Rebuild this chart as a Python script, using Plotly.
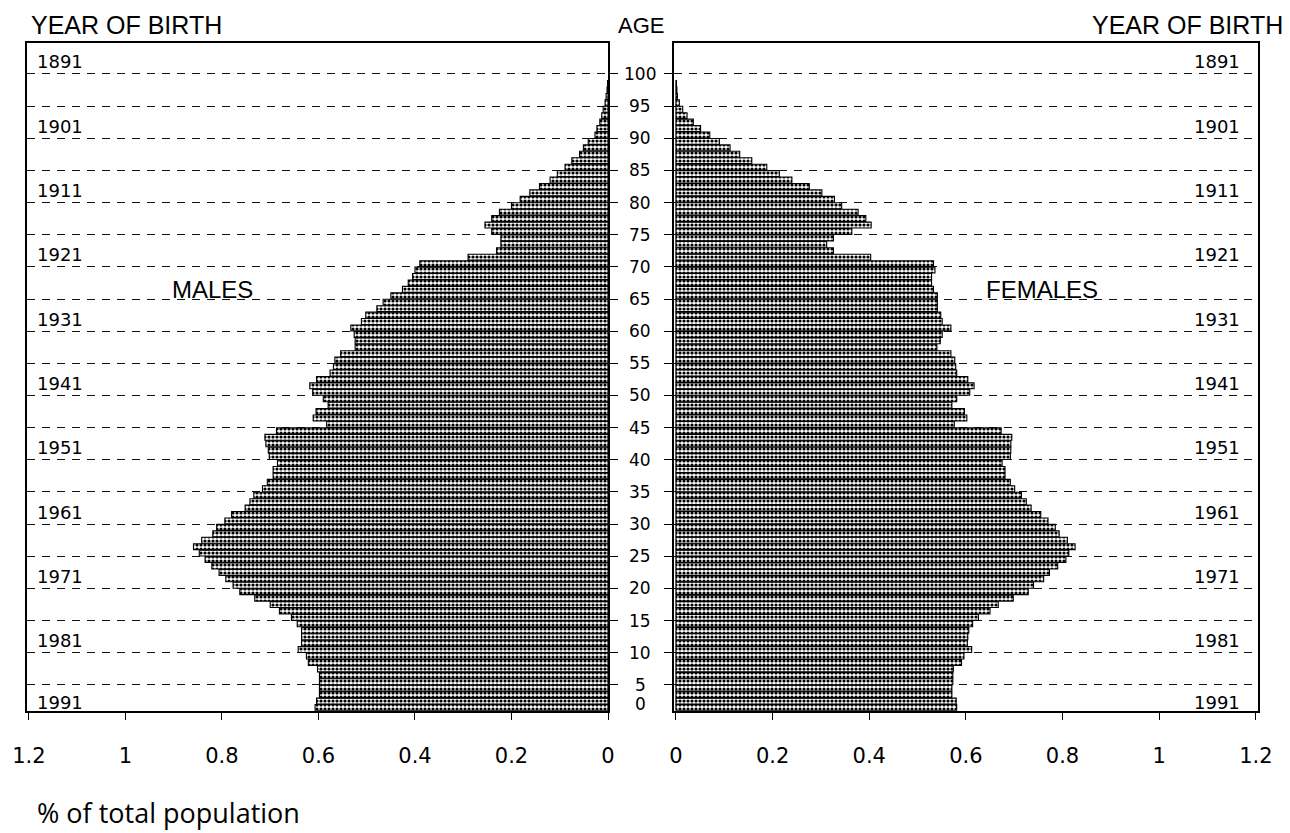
import plotly.graph_objects as go

# ---------------- data ----------------
ages = list(range(1, 99))

males = [0.607, 0.604, 0.598, 0.598, 0.598, 0.598, 0.602, 0.621, 0.625, 0.642,
         0.635, 0.635, 0.635, 0.644, 0.656, 0.681, 0.700, 0.732, 0.763, 0.777,
         0.792, 0.806, 0.821, 0.835, 0.847, 0.859, 0.842, 0.819, 0.811, 0.794,
         0.780, 0.752, 0.742, 0.734, 0.716, 0.706, 0.694, 0.694, 0.685, 0.702,
         0.704, 0.709, 0.711, 0.687, 0.583, 0.611, 0.605, 0.580, 0.590, 0.612,
         0.618, 0.604, 0.576, 0.569, 0.566, 0.554, 0.524, 0.524, 0.526, 0.533,
         0.511, 0.502, 0.479, 0.466, 0.450, 0.426, 0.414, 0.405, 0.400, 0.390,
         0.290, 0.231, 0.222, 0.222, 0.241, 0.255, 0.241, 0.225, 0.200, 0.182,
         0.162, 0.142, 0.120, 0.105, 0.089, 0.075, 0.059, 0.051, 0.041, 0.027,
         0.023, 0.017, 0.013, 0.010, 0.006, 0.004, 0.002, 0.001]

females = [0.581, 0.580, 0.571, 0.571, 0.573, 0.573, 0.574, 0.591, 0.596, 0.612,
           0.603, 0.604, 0.606, 0.614, 0.626, 0.650, 0.667, 0.698, 0.729, 0.740,
           0.761, 0.773, 0.790, 0.807, 0.813, 0.826, 0.810, 0.793, 0.785, 0.770,
           0.755, 0.735, 0.725, 0.715, 0.701, 0.692, 0.681, 0.681, 0.675, 0.692,
           0.693, 0.693, 0.695, 0.673, 0.576, 0.602, 0.597, 0.571, 0.581, 0.608,
           0.617, 0.604, 0.581, 0.579, 0.577, 0.569, 0.540, 0.547, 0.551, 0.569,
           0.551, 0.548, 0.541, 0.541, 0.541, 0.533, 0.529, 0.529, 0.536, 0.533,
           0.403, 0.326, 0.312, 0.326, 0.364, 0.404, 0.393, 0.377, 0.343, 0.328,
           0.302, 0.276, 0.240, 0.214, 0.188, 0.157, 0.132, 0.112, 0.090, 0.070,
           0.051, 0.036, 0.023, 0.014, 0.007, 0.003, 0.002, 0.001]

age_ticks = [0, 5, 10, 15, 20, 25, 30, 35, 40, 45, 50, 55, 60, 65, 70, 75, 80, 85, 90, 95, 100]
year_labels = ["1891", "1901", "1911", "1921", "1931", "1941", "1951", "1961", "1971", "1981", "1991"]
year_ages = [100, 90, 80, 70, 60, 50, 40, 30, 20, 10, 0]
x_tickvals = [0, 0.2, 0.4, 0.6, 0.8, 1.0, 1.2]
x_ticktext = ["0", "0.2", "0.4", "0.6", "0.8", "1", "1.2"]

# ---------------- figure ----------------
W, H = 1290, 833


def px(x):
    return x / W


def py(y):
    return 1 - y / H


bar_marker = dict(
    color="white",
    line=dict(color="black", width=1.1),
    pattern=dict(shape=".", fgcolor="black", bgcolor="white", size=4,
                 solidity=0.5, fillmode="replace"),
)

fig = go.Figure()
fig.add_trace(go.Bar(y=ages, x=males, orientation="h", xaxis="x", yaxis="y",
                     marker=bar_marker, hoverinfo="skip", showlegend=False))
fig.add_trace(go.Bar(y=ages, x=females, orientation="h", xaxis="x2", yaxis="y2",
                     marker=bar_marker, hoverinfo="skip", showlegend=False))

grid_pos = [a - 0.5 for a in age_ticks if a > 0]

common_x = dict(showline=True, mirror=True, linecolor="black", linewidth=1.5,
                ticks="outside", ticklen=8, tickcolor="black", tickwidth=1.2,
                tickvals=x_tickvals, ticktext=x_ticktext, showgrid=False,
                zeroline=False, ticklabelstandoff=17, automargin=False,
                tickfont=dict(family="DejaVu Sans", size=21, color="black"))
common_y = dict(range=[0.5, 104.3], domain=[py(710.7), py(43)],
                showline=True, mirror=True, linecolor="black", linewidth=1.5,
                tickvals=grid_pos, ticks="outside", ticklen=8, tickcolor="black",
                tickwidth=1.2, showticklabels=False, showgrid=True,
                gridcolor="#111111", gridwidth=1.2, griddash="8px,7px",
                zeroline=False, automargin=False)

fig.update_layout(
    width=W, height=H,
    autosize=False,
    margin=dict(l=0, r=0, t=0, b=0, pad=0, autoexpand=False),
    paper_bgcolor="white", plot_bgcolor="white",
    bargap=0.08,
    xaxis=dict(domain=[px(27), px(608)], range=[1.204, 0], anchor="y", **common_x),
    xaxis2=dict(domain=[px(674), px(1258)], range=[-0.004, 1.2045], anchor="y2", **common_x),
    yaxis=dict(anchor="x", side="right", **common_y),
    yaxis2=dict(anchor="x2", side="left", matches="y", **common_y),
)

ann = []
# age labels between the panels (the "0" label sits at the bottom of the frame)
for a in age_ticks:
    ypos = a - 0.5 if a > 0 else 1.0
    ann.append(dict(x=px(640), xref="paper", y=ypos, yref="y", text=str(a),
                    showarrow=False, xanchor="center", yanchor="middle",
                    yshift=0 if a > 0 else 3,
                    font=dict(family="DejaVu Sans", size=17, color="black")))
# year of birth labels, just above their dashed lines
for lab, a in zip(year_labels, year_ages):
    ypos = a - 0.5 if a > 0 else 1.0
    ysh = 12 if a > 0 else 5
    ann.append(dict(x=px(35), xref="paper", y=ypos, yref="y", text=lab,
                    showarrow=False, xanchor="left", yanchor="middle", yshift=ysh,
                    font=dict(family="DejaVu Sans", size=18, color="black")))
    ann.append(dict(x=px(1242), xref="paper", y=ypos, yref="y2", text=lab,
                    showarrow=False, xanchor="right", yanchor="middle", yshift=ysh,
                    font=dict(family="DejaVu Sans", size=18, color="black")))

title_font = dict(family="Liberation Sans", size=25, color="black")
ann += [
    dict(x=px(29), y=py(25), xref="paper", yref="paper", text="YEAR OF BIRTH",
         showarrow=False, xanchor="left", yanchor="middle", font=title_font),
    dict(x=px(641), y=py(25), xref="paper", yref="paper", text="AGE",
         showarrow=False, xanchor="center", yanchor="middle",
         font=dict(family="Liberation Sans", size=22, color="black")),
    dict(x=px(1285), y=py(25), xref="paper", yref="paper", text="YEAR OF BIRTH",
         showarrow=False, xanchor="right", yanchor="middle", font=title_font),
    dict(x=0.819, xref="x", y=66, yref="y", text="MALES", showarrow=False,
         xanchor="center", yanchor="middle",
         font=dict(family="Liberation Sans", size=24, color="black")),
    dict(x=0.757, xref="x2", y=66, yref="y2", text="FEMALES", showarrow=False,
         xanchor="center", yanchor="middle",
         font=dict(family="Liberation Sans", size=24, color="black")),
    dict(x=px(35), y=py(812), xref="paper", yref="paper", text="% of total population",
         showarrow=False, xanchor="left", yanchor="middle",
         font=dict(family="Open Sans", size=27, color="black")),
]
fig.update_layout(annotations=ann)

fig.write_html(
    "out.html",
    config={"displayModeBar": False},
    post_script="document.body.style.margin='0';document.body.style.overflow='hidden';",
)
